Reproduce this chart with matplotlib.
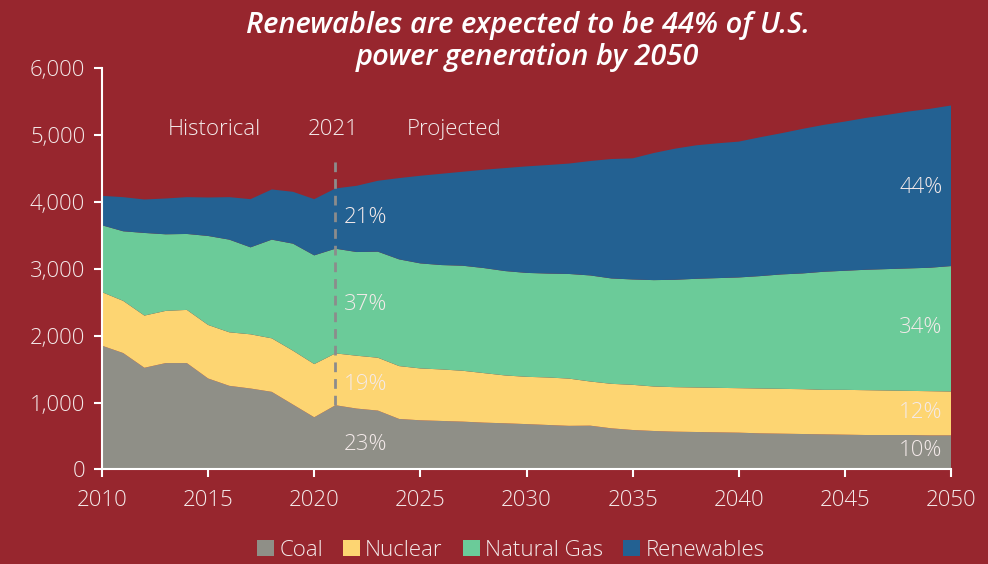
import matplotlib
matplotlib.use("Agg")
import matplotlib.pyplot as plt
from matplotlib.ticker import FuncFormatter
from matplotlib.patches import Patch
import numpy as np

# Data (billion kWh)
years = list(range(2010, 2051))
coal = [1850, 1740, 1520, 1590, 1590, 1360, 1250, 1210, 1160, 970, 780,
        960, 910, 880, 755, 735, 725, 715, 700, 690, 678,
        665, 652, 655, 615, 590, 575, 565, 560, 555, 550,
        540, 535, 530, 525, 520, 515, 515, 515, 510, 510]
nuclear = [800, 780, 780, 780, 795, 800, 800, 810, 800, 805, 795,
           775, 790, 790, 790, 775, 770, 760, 740, 715, 707,
           710, 706, 660, 665, 675, 665, 665, 665, 665, 665,
           670, 670, 670, 665, 670, 670, 665, 660, 660, 655]
natural_gas = [1000, 1040, 1235, 1145, 1135, 1330, 1385, 1300, 1475, 1600, 1625,
               1565, 1550, 1585, 1595, 1570, 1560, 1570, 1570, 1560, 1553,
               1553, 1564, 1585, 1575, 1575, 1590, 1605, 1625, 1640, 1655,
               1680, 1710, 1730, 1765, 1780, 1800, 1815, 1830, 1845, 1875]
renewables = [440, 510, 500, 535, 550, 575, 635, 720, 750, 775, 840,
              900, 990, 1060, 1215, 1310, 1365, 1405, 1470, 1540, 1592,
              1622, 1650, 1710, 1785, 1810, 1900, 1960, 1995, 2015, 2030,
              2075, 2110, 2160, 2195, 2230, 2270, 2305, 2345, 2375, 2400]

labels = ["Coal", "Nuclear", "Natural Gas", "Renewables"]
colors = ["#8f8f87", "#fdd572", "#6bcb99", "#236192"]

# share labels: (x, y, text)
share_2021 = [(2022.4, 3770, "21%"), (2022.4, 2460, "37%"),
              (2022.4, 1265, "19%"), (2022.4, 370, "23%")]
share_2050 = [(2049.6, 4215, "44%"), (2049.6, 2120, "34%"),
              (2049.6, 845, "12%"), (2049.6, 277, "10%")]

bg = "#97262e"
fg = "#f4eaea"
plt.rcParams["font.family"] = ["Open Sans", "DejaVu Sans"]
fs = 16

fig = plt.figure(figsize=(9.88, 5.64), dpi=100, facecolor=bg)
ax = fig.add_axes([0.1032, 0.1676, 0.8594, 0.7118])
ax.set_facecolor(bg)

ax.stackplot(years, coal, nuclear, natural_gas, renewables,
             colors=colors, linewidth=0)

ax.set_xlim(2010, 2050)
ax.set_ylim(0, 6000)
ax.set_xticks(range(2010, 2051, 5))
ax.set_yticks(range(0, 6001, 1000))
ax.yaxis.set_major_formatter(FuncFormatter(lambda v, p: f"{int(v):,}"))

for side in ["top", "right"]:
    ax.spines[side].set_visible(False)
for side in ["left", "bottom"]:
    ax.spines[side].set_color("white")
    ax.spines[side].set_linewidth(1.5)
ax.tick_params(colors="white", length=6, width=1.5, labelsize=fs,
               labelcolor=fg, pad=6)
ax.tick_params(axis="x", pad=9)
for t in ax.get_xticklabels() + ax.get_yticklabels():
    t.set_fontweight("light")

# 2021 divider
ax.vlines(2021, 960, 4630, colors="#8c8c8c", linestyles=(0, (3.5, 2.5)),
          linewidth=2, zorder=3)

ax.text(2015.3, 5080, "Historical", color=fg, fontsize=fs, fontweight="light",
        ha="center", va="center")
ax.text(2020.9, 5080, "2021", color=fg, fontsize=fs, fontweight="light",
        ha="center", va="center")
ax.text(2026.6, 5080, "Projected", color=fg, fontsize=fs, fontweight="light",
        ha="center", va="center")

for x, y, t in share_2021:
    ax.text(x, y, t, color=fg, fontsize=fs, fontweight="light", ha="center", va="center")
for x, y, t in share_2050:
    ax.text(x, y, t, color=fg, fontsize=fs, fontweight="light", ha="right", va="center")

fig.text(0.534, 0.926, "Renewables are expected to be 44% of U.S.\npower generation by 2050",
         color="white", fontsize=21, fontweight="semibold", fontstyle="italic",
         ha="center", va="center", linespacing=1.15)

handles = [Patch(facecolor=c, label=l) for c, l in zip(colors, labels)]
leg = fig.legend(handles=handles, loc="center", bbox_to_anchor=(0.517, 0.024),
                 ncol=4, frameon=False, fontsize=fs, labelcolor=fg,
                 handlelength=0.75, handleheight=0.75, handletextpad=0.25,
                 columnspacing=0.9)
for t in leg.get_texts():
    t.set_fontweight("light")

fig.savefig("out.png", dpi=100, facecolor=bg)
